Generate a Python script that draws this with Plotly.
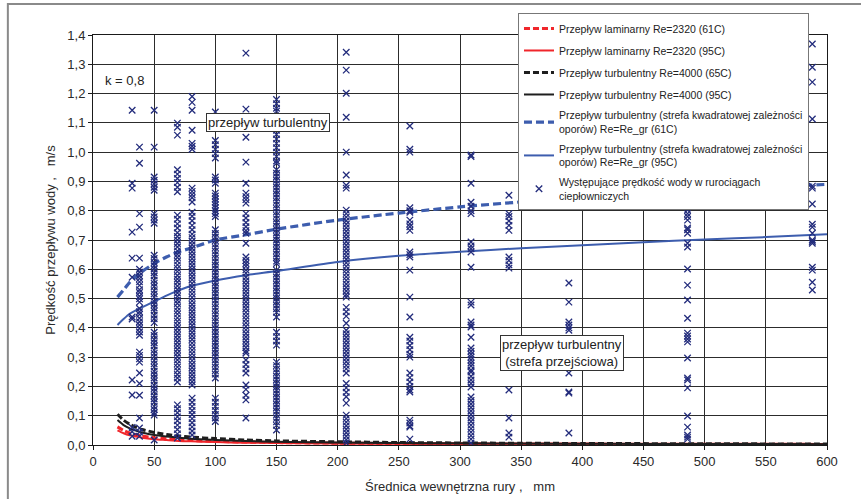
import plotly.graph_objects as go

# ---------------- curve data ----------------
curve_d = [20, 25, 30, 35, 40, 50, 60, 70, 80, 100, 125, 150, 200, 250, 300, 350, 400, 450, 500, 550, 600]
lam_61 = [0.062, 0.050, 0.041, 0.035, 0.031, 0.025, 0.021, 0.018, 0.0155, 0.0124, 0.010, 0.0083, 0.0062, 0.0050,
          0.0041, 0.0035, 0.0031, 0.0028, 0.0025, 0.0023, 0.0021]
lam_95 = [0.050, 0.040, 0.033, 0.029, 0.025, 0.020, 0.017, 0.014, 0.0125, 0.010, 0.008, 0.0067, 0.0050, 0.0040,
          0.0033, 0.0029, 0.0025, 0.0022, 0.0020, 0.0018, 0.0017]
turb_65 = [0.105, 0.085, 0.071, 0.061, 0.053, 0.043, 0.036, 0.031, 0.027, 0.022, 0.017, 0.014, 0.011, 0.0085,
           0.0070, 0.0060, 0.0053, 0.0047, 0.0042, 0.0038, 0.0035]
turb_95 = [0.085, 0.068, 0.057, 0.049, 0.043, 0.034, 0.029, 0.025, 0.021, 0.017, 0.014, 0.011, 0.0085, 0.0068,
           0.0057, 0.0049, 0.0043, 0.0038, 0.0034, 0.0031, 0.0028]
regr_61 = [0.505, 0.530, 0.555, 0.575, 0.592, 0.620, 0.642, 0.660, 0.672, 0.700, 0.718, 0.737, 0.768, 0.792,
           0.813, 0.830, 0.845, 0.858, 0.870, 0.880, 0.890]
regr_95 = [0.410, 0.430, 0.448, 0.460, 0.470, 0.490, 0.510, 0.528, 0.543, 0.562, 0.580, 0.594, 0.625, 0.646,
           0.660, 0.672, 0.682, 0.692, 0.702, 0.710, 0.720]

# ---------------- measured velocities per pipe diameter ----------------
v_d32 = [1.143, 0.894, 0.877, 0.727, 0.638, 0.573, 0.437, 0.430, 0.222, 0.171, 0.060, 0.045, 0.030]
v_d38 = [1.017, 0.962, 0.790, 0.744, 0.638, 0.600, 0.590, 0.578, 0.568, 0.557, 0.545, 0.530, 0.521, 0.508,
         0.499, 0.488, 0.466, 0.455, 0.446, 0.433, 0.421, 0.410, 0.398, 0.386, 0.375, 0.317, 0.306, 0.294,
         0.283, 0.246, 0.210, 0.170, 0.092, 0.058, 0.044, 0.030]
v_d50 = [1.143, 1.017, 0.915, 0.904, 0.891, 0.880, 0.870, 0.790, 0.779, 0.768, 0.757, 0.648, 0.637, 0.623,
         0.612, 0.601, 0.588, 0.577, 0.563, 0.552, 0.541, 0.527, 0.516, 0.505, 0.491, 0.480, 0.468, 0.457,
         0.443, 0.431, 0.418, 0.385, 0.374, 0.360, 0.349, 0.338, 0.324, 0.313, 0.301, 0.288, 0.277, 0.266,
         0.252, 0.241, 0.229, 0.218, 0.204, 0.193, 0.182, 0.168, 0.157, 0.146, 0.132, 0.121, 0.110, 0.102,
         0.017]
v_d69 = [1.099, 1.085, 1.058, 0.940, 0.925, 0.910, 0.896, 0.880, 0.865, 0.785, 0.771, 0.755, 0.741, 0.725,
         0.712, 0.700, 0.688, 0.676, 0.663, 0.651, 0.640, 0.628, 0.615, 0.603, 0.592, 0.579, 0.567, 0.556,
         0.543, 0.531, 0.519, 0.507, 0.494, 0.483, 0.470, 0.458, 0.447, 0.434, 0.422, 0.410, 0.398, 0.386,
         0.374, 0.362, 0.350, 0.338, 0.326, 0.314, 0.302, 0.290, 0.278, 0.266, 0.254, 0.241, 0.229, 0.215,
         0.137, 0.124, 0.110, 0.096, 0.083, 0.068, 0.053, 0.038, 0.024]
v_d81 = [1.190, 1.170, 1.143, 1.075, 1.030, 1.020, 1.010, 0.877, 0.866, 0.855, 0.844, 0.830, 0.795, 0.781,
         0.766, 0.750, 0.735, 0.720, 0.708, 0.696, 0.684, 0.672, 0.660, 0.648, 0.636, 0.624, 0.612, 0.600,
         0.588, 0.576, 0.564, 0.552, 0.540, 0.528, 0.516, 0.504, 0.492, 0.480, 0.468, 0.456, 0.444, 0.432,
         0.420, 0.408, 0.396, 0.384, 0.372, 0.360, 0.348, 0.336, 0.324, 0.312, 0.300, 0.288, 0.276, 0.264,
         0.252, 0.240, 0.228, 0.216, 0.205, 0.160, 0.146, 0.132, 0.118, 0.104, 0.090, 0.076, 0.062, 0.048,
         0.034]
v_d100 = [1.137, 1.040, 1.025, 1.010, 0.995, 0.980, 0.915, 0.905, 0.894, 0.860, 0.850, 0.840, 0.830, 0.820,
          0.810, 0.800, 0.790, 0.780, 0.735, 0.722, 0.710, 0.698, 0.686, 0.674, 0.662, 0.650, 0.638, 0.626,
          0.614, 0.602, 0.590, 0.578, 0.566, 0.554, 0.542, 0.530, 0.518, 0.506, 0.494, 0.482, 0.470, 0.458,
          0.446, 0.434, 0.422, 0.410, 0.398, 0.386, 0.374, 0.362, 0.350, 0.338, 0.326, 0.314, 0.302, 0.290,
          0.278, 0.266, 0.254, 0.242, 0.229, 0.160, 0.146, 0.132, 0.118, 0.104, 0.092, 0.080]
v_d125 = [1.338, 1.147, 1.051, 0.966, 0.894, 0.860, 0.848, 0.838, 0.826, 0.790, 0.775, 0.760, 0.745, 0.732,
          0.723, 0.689, 0.642, 0.630, 0.620, 0.610, 0.598, 0.587, 0.573, 0.561, 0.549, 0.537, 0.525, 0.513,
          0.501, 0.489, 0.477, 0.465, 0.453, 0.441, 0.429, 0.417, 0.405, 0.393, 0.381, 0.369, 0.357, 0.345,
          0.333, 0.321, 0.314, 0.290, 0.275, 0.260, 0.246, 0.205, 0.190, 0.170, 0.154, 0.092]
v_d150 = [1.180, 1.165, 1.150, 1.140, 1.075, 1.060, 1.045, 1.030, 1.015, 1.000, 0.985, 0.970, 0.962, 0.940,
          0.928, 0.916, 0.904, 0.892, 0.880, 0.868, 0.856, 0.844, 0.832, 0.820, 0.808, 0.796, 0.784, 0.772,
          0.760, 0.748, 0.736, 0.724, 0.712, 0.700, 0.688, 0.676, 0.664, 0.652, 0.640, 0.628, 0.620, 0.597,
          0.585, 0.573, 0.561, 0.549, 0.537, 0.525, 0.513, 0.501, 0.489, 0.477, 0.465, 0.453, 0.437, 0.385,
          0.370, 0.355, 0.341, 0.283, 0.271, 0.259, 0.247, 0.235, 0.223, 0.211, 0.199, 0.187, 0.175, 0.163,
          0.151, 0.139, 0.127, 0.115, 0.103, 0.091, 0.079, 0.067, 0.051]
v_d207 = [1.341, 1.280, 1.201, 1.119, 1.000, 0.922, 0.887, 0.877, 0.802, 0.790, 0.778, 0.766, 0.754, 0.742,
          0.730, 0.718, 0.706, 0.694, 0.682, 0.670, 0.658, 0.646, 0.634, 0.622, 0.610, 0.598, 0.586, 0.574,
          0.562, 0.550, 0.538, 0.526, 0.514, 0.505, 0.470, 0.455, 0.440, 0.416, 0.392, 0.380, 0.368, 0.356,
          0.344, 0.332, 0.320, 0.308, 0.296, 0.284, 0.272, 0.260, 0.246, 0.210, 0.195, 0.180, 0.165, 0.143,
          0.102, 0.090, 0.078, 0.066, 0.054, 0.042, 0.030, 0.018, 0.007]
v_d259 = [1.089, 1.010, 1.000, 0.810, 0.800, 0.795, 0.768, 0.755, 0.745, 0.733, 0.659, 0.650, 0.642, 0.597,
          0.505, 0.437, 0.368, 0.355, 0.340, 0.325, 0.310, 0.300, 0.246, 0.230, 0.215, 0.200, 0.188, 0.181,
          0.085, 0.075, 0.065, 0.061, 0.020]
v_d309 = [0.990, 0.985, 0.894, 0.829, 0.815, 0.800, 0.790, 0.693, 0.680, 0.670, 0.659, 0.607, 0.488, 0.478,
          0.420, 0.410, 0.403, 0.368, 0.331, 0.320, 0.310, 0.300, 0.290, 0.280, 0.270, 0.256, 0.249, 0.235,
          0.222, 0.210, 0.198, 0.164, 0.152, 0.140, 0.128, 0.116, 0.104, 0.092, 0.080, 0.068, 0.056, 0.044,
          0.032, 0.020, 0.007]
v_d340 = [0.853, 0.790, 0.780, 0.765, 0.750, 0.733, 0.642, 0.630, 0.615, 0.604, 0.188, 0.092, 0.041, 0.027]
v_d389 = [0.553, 0.488, 0.420, 0.410, 0.400, 0.392, 0.246, 0.181, 0.177, 0.041]
v_d486 = [0.802, 0.790, 0.780, 0.768, 0.741, 0.735, 0.723, 0.689, 0.676, 0.601, 0.546, 0.495, 0.433, 0.382,
          0.372, 0.362, 0.352, 0.297, 0.229, 0.222, 0.195, 0.099, 0.061, 0.034, 0.027, 0.020]
v_d588 = [1.369, 1.290, 1.239, 1.113, 0.884, 0.877, 0.823, 0.754, 0.744, 0.723, 0.700, 0.695, 0.689, 0.607,
          0.597, 0.556, 0.529]

diameters = [32, 38, 50, 69, 81, 100, 125, 150, 207, 259, 309, 340, 389, 486, 588]
velocity_columns = [v_d32, v_d38, v_d50, v_d69, v_d81, v_d100, v_d125, v_d150, v_d207, v_d259, v_d309,
                    v_d340, v_d389, v_d486, v_d588]

x_ticks = list(range(0, 601, 50))
y_ticks = [i / 10 for i in range(0, 15)]

names = [
    "Przepływ laminarny Re=2320 (61C)",
    "Przepływ laminarny Re=2320 (95C)",
    "Przepływ turbulentny Re=4000 (65C)",
    "Przepływ turbulentny Re=4000 (95C)",
    "Przepływ turbulentny (strefa kwadratowej zależności<br>oporów) Re=Re_gr (61C)",
    "Przepływ turbulentny (strefa kwadratowej zależności<br>oporów) Re=Re_gr (95C)",
    "Występujące prędkość wody w rurociągach<br>ciepłowniczych",
]

RED = "#F0262B"
BLACK = "#1E1E1E"
BLUE = "#3D5DAE"
NAVY = "#232C7C"

fig = go.Figure()
line_specs = [
    (lam_61, RED, 3, "6px,3px"),
    (lam_95, RED, 2, "solid"),
    (turb_65, BLACK, 3, "6px,3px"),
    (turb_95, BLACK, 2, "solid"),
    (regr_61, BLUE, 3.2, "8px,4px"),
    (regr_95, BLUE, 2, "solid"),
]
for i, (vals, col, w, dash) in enumerate(line_specs):
    fig.add_trace(go.Scatter(
        x=curve_d, y=vals, mode="lines", name=names[i], legendgroup=f"g{i}",
        line=dict(color=col, width=w, dash=dash, shape="spline", smoothing=0.6),
    ))

xs, ys = [], []
for d, col in zip(diameters, velocity_columns):
    xs.extend([d] * len(col))
    ys.extend(col)
fig.add_trace(go.Scatter(
    x=xs, y=ys, mode="markers", name=names[6], legendgroup="g6",
    marker=dict(symbol="x-thin", size=6.5, line=dict(color=NAVY, width=1.3), color=NAVY),
))

FONT = "Liberation Sans, Arial, sans-serif"
axis_common = dict(
    showgrid=True, gridcolor="#2c2c2c", gridwidth=1,
    showline=True, linecolor="#1a1a1a", linewidth=1, mirror=True,
    ticks="outside", ticklen=4, tickcolor="#1a1a1a",
    tickfont=dict(family=FONT, size=13, color="#2a2a2a"),
    zeroline=False, automargin=False,
)
fig.update_xaxes(range=[0, 600], tickvals=x_ticks,
                 title=dict(text="Średnica wewnętrzna rury ,\u00a0\u00a0\u00a0mm",
                            font=dict(family=FONT, size=13, color="#2a2a2a"), standoff=14),
                 **axis_common)
fig.update_yaxes(range=[0, 1.4], tickvals=y_ticks, tickformat=".1f",
                 title=dict(text="Prędkość przepływu wody ,\u00a0\u00a0\u00a0m/s",
                            font=dict(family=FONT, size=13, color="#2a2a2a"), standoff=8),
                 **axis_common)

fig.add_annotation(x=8, y=1.245, xref="x", yref="y", text="k = 0,8", showarrow=False,
                   xanchor="left", font=dict(family=FONT, size=13, color="#222"))
fig.add_annotation(x=143, y=1.102, xref="x", yref="y", text="przepływ turbulentny", showarrow=False,
                   bgcolor="white", bordercolor="#333", borderwidth=1, borderpad=1,
                   font=dict(family=FONT, size=13, color="#222"))
fig.add_annotation(x=383, y=0.314, xref="x", yref="y", text="przepływ turbulentny<br>(strefa przejściowa)",
                   showarrow=False, bgcolor="white", bordercolor="#333", borderwidth=1, borderpad=1,
                   font=dict(family=FONT, size=13, color="#222"))

# outer chart frame
fig.add_shape(type="rect", xref="paper", yref="paper", x0=-0.116, x1=1.2, y0=-0.3, y1=1.0756,
              line=dict(color="#8a8a8a", width=2), fillcolor="rgba(0,0,0,0)", layer="below")

fig.update_layout(
    width=861, height=499,
    margin=dict(l=93, r=34, t=35, b=54),
    paper_bgcolor="white", plot_bgcolor="white",
    separators=", ",
    font=dict(family=FONT, size=11, color="#222"),
    legend=dict(x=0.579, y=1.0537, xanchor="left", yanchor="top",
                bgcolor="white", bordercolor="#777", borderwidth=1,
                font=dict(family=FONT, size=10.5, color="#222"),
                tracegroupgap=3, itemwidth=30, traceorder="grouped"),
    showlegend=True,
)

fig.write_html("out.html", config={"displayModeBar": False},
               post_script="document.body.style.margin='0px';")
